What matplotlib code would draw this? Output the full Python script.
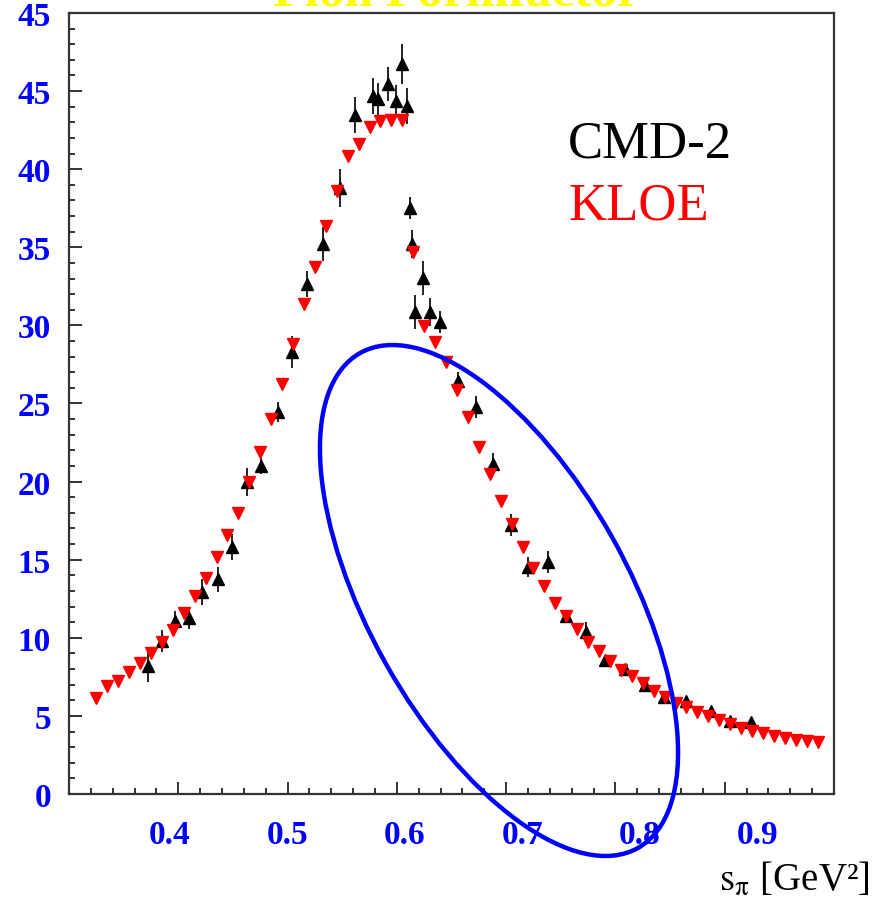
import matplotlib
matplotlib.use('Agg')
import matplotlib.pyplot as plt
from matplotlib.patches import Ellipse
from matplotlib.ticker import MultipleLocator

plt.rcParams['font.family'] = ['Liberation Serif', 'DejaVu Serif']
plt.rcParams['mathtext.fontset'] = 'stix'

# KLOE points (s_pi in GeV^2, |F_pi|^2)
kloe_s = [0.325, 0.335, 0.345, 0.355, 0.365, 0.375, 0.385, 0.395, 0.405, 0.415,
          0.425, 0.435, 0.445, 0.455, 0.465, 0.475, 0.485, 0.495, 0.505, 0.515,
          0.525, 0.535, 0.545, 0.555, 0.565, 0.575, 0.585, 0.595, 0.605, 0.615,
          0.625, 0.635, 0.645, 0.655, 0.665, 0.675, 0.685, 0.695, 0.705, 0.715,
          0.725, 0.735, 0.745, 0.755, 0.765, 0.775, 0.785, 0.795, 0.805, 0.815,
          0.825, 0.835, 0.845, 0.855, 0.865, 0.875, 0.885, 0.895, 0.905, 0.915,
          0.925, 0.935, 0.945, 0.955, 0.965, 0.975, 0.985]
kloe_f = [6.15, 6.91, 7.23, 7.81, 8.39, 9.03, 9.73, 10.50, 11.59, 12.68,
          13.83, 15.17, 16.58, 17.99, 19.97, 21.90, 24.01, 26.25, 28.81, 31.37,
          33.74, 36.36, 38.60, 40.85, 41.61, 42.70, 43.09, 43.15, 43.15, 34.70,
          29.96, 28.94, 27.66, 25.86, 24.14, 22.22, 20.49, 18.76, 17.29, 15.81,
          14.47, 13.32, 12.23, 11.40, 10.56, 9.73, 9.15, 8.51, 7.94, 7.55,
          7.11, 6.59, 6.21, 5.83, 5.57, 5.25, 4.99, 4.74, 4.48, 4.23,
          4.03, 3.91, 3.71, 3.59, 3.46, 3.39, 3.33]

# CMD-2 points with errors
cmd_s = [0.372, 0.385, 0.397, 0.410, 0.422, 0.436, 0.449, 0.463, 0.476, 0.491,
         0.504, 0.518, 0.532, 0.548, 0.562, 0.578, 0.583, 0.592, 0.599, 0.605,
         0.609, 0.612, 0.614, 0.617, 0.624, 0.630, 0.639, 0.656, 0.672, 0.688,
         0.704, 0.720, 0.738, 0.755, 0.773, 0.790, 0.809, 0.827, 0.844, 0.865,
         0.887, 0.905, 0.924]
cmd_f = [8.19, 9.80, 11.08, 11.27, 12.93, 13.76, 15.81, 19.97, 21.00, 24.46,
         28.30, 32.65, 35.21, 38.80, 43.47, 44.69, 44.49, 45.45, 44.37, 46.73,
         44.05, 37.52, 35.21, 30.86, 33.03, 30.86, 30.22, 26.44, 24.78, 21.13,
         17.22, 14.53, 14.85, 11.40, 10.37, 8.58, 8.00, 6.98, 6.21, 5.95,
         5.31, 4.67, 4.61]
cmd_err = [1.0, 0.7, 0.65, 0.7, 0.85, 0.8, 0.85, 0.9, 0.5, 0.65,
           1.0, 0.85, 1.1, 1.2, 1.15, 1.15, 1.0, 1.1, 1.0, 1.3,
           1.15, 0.7, 0.9, 1.1, 1.1, 0.9, 0.7, 0.6, 0.7, 0.7,
           0.7, 0.65, 0.7, 0.4, 0.65, 0.25, 0.25, 0.25, 0.25, 0.25,
           0.25, 0.25, 0.25]

y_ticks = [0, 5, 10, 15, 20, 25, 30, 35, 40, 45, 50]
y_labels = ['0', '5', '10', '15', '20', '25', '30', '35', '40', '45', '45']
x_labels = [0.4, 0.5, 0.6, 0.7, 0.8, 0.9]

fig = plt.figure(figsize=(8.85, 9.04), dpi=100)
ax = fig.add_axes([0.078, 0.1206, 0.8644, 0.8639])

ax.errorbar(cmd_s, cmd_f, yerr=cmd_err, fmt='^', color='black', ms=8.5,
            ecolor='#222222', elinewidth=1.4, capsize=0, zorder=3)
ax.plot(kloe_s, kloe_f, 'v', color='#ff0000', ms=8, zorder=4)

ax.set_xlim(0.3, 1.0)
ax.set_ylim(0, 50)

for s in ax.spines.values():
    s.set_color('#333333')
    s.set_linewidth(1.6)

ax.xaxis.set_major_locator(MultipleLocator(0.1))
ax.xaxis.set_minor_locator(MultipleLocator(0.02))
ax.set_yticks(y_ticks, y_labels)
ax.yaxis.set_minor_locator(MultipleLocator(1))
ax.tick_params(which='both', direction='in', color='#333333', width=1.4,
               top=False, right=False)
ax.tick_params(which='major', length=9)
ax.tick_params(which='minor', length=4.5)
ax.tick_params(axis='x', labelbottom=False)
ax.tick_params(axis='y', labelsize=24, labelcolor='blue', pad=13)
for t in ax.get_yticklabels():
    t.set_fontweight('bold')

# x labels are printed on a slightly stretched scale relative to the ticks
def to_lab(x):
    return 0.4 + (x - 0.3923) / 1.075

def from_lab(v):
    return 0.3923 + (v - 0.4) * 1.075

sec = ax.secondary_xaxis('bottom', functions=(to_lab, from_lab))
sec.set_xticks(x_labels, [f'{v:.1f}' for v in x_labels])
sec.tick_params(length=0, pad=18, labelsize=24, labelcolor='blue')
sec.spines['bottom'].set_visible(False)
for t in sec.get_xticklabels():
    t.set_fontweight('bold')

fig.text(0.9831, 1 - 891 / 904, r'$\mathrm{s}_{\mathrm{\pi}}$ [GeV²]', ha='right',
         va='baseline', fontsize=28, color='black')
fig.text(568 / 885, 1 - 157 / 904, 'CMD-2', fontsize=38, color='black',
         va='baseline')
fig.text(568 / 885, 1 - 220 / 904, 'KLOE', fontsize=38, color='#ff0000',
         va='baseline')
fig.text(456 / 885, 1 - 6 / 904, 'Pion Formfactor', fontsize=37,
         fontweight='bold', color='#ffff00', ha='center', va='baseline')

ring = Ellipse((4.99, 3.025), width=5.676, height=2.592, angle=-60.7,
               transform=fig.dpi_scale_trans, fill=False, edgecolor='#0000ff',
               linewidth=3.2)
fig.add_artist(ring)

fig.savefig('out.png', dpi=100)
